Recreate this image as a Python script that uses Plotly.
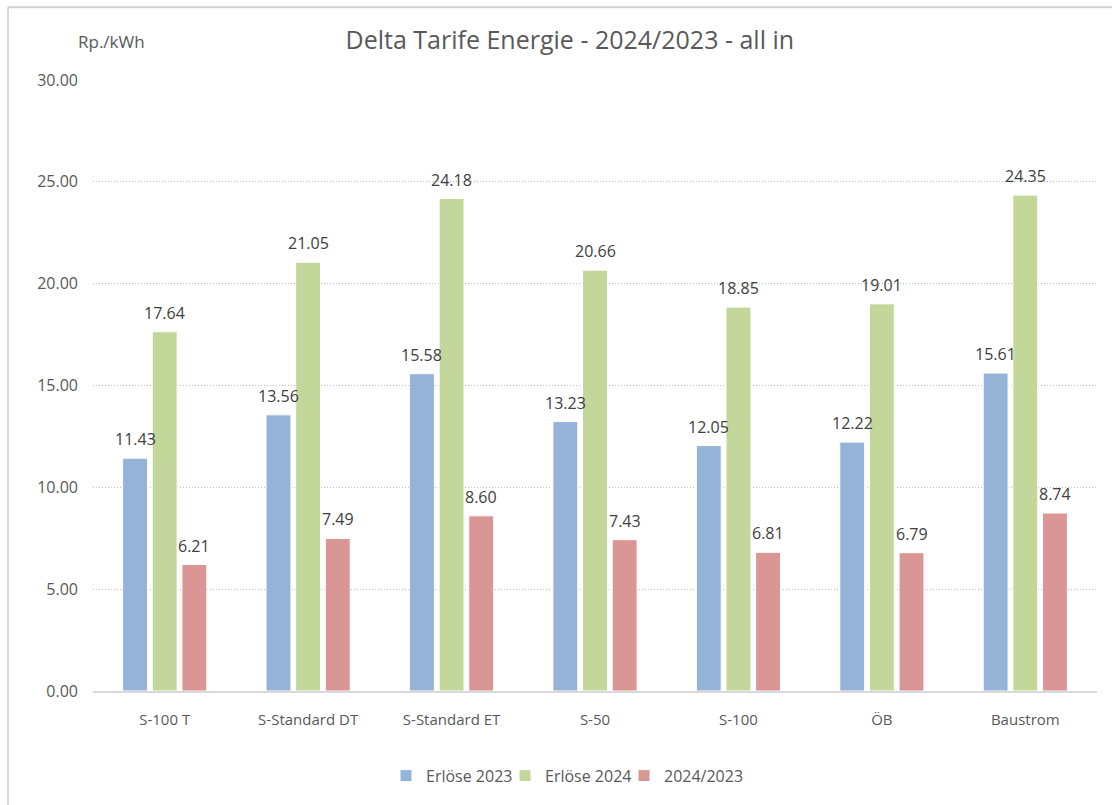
import plotly.graph_objects as go

categories = ["S-100 T", "S-Standard DT", "S-Standard ET", "S-50", "S-100", "ÖB", "Baustrom"]
erloese_2023 = [11.43, 13.56, 15.58, 13.23, 12.05, 12.22, 15.61]
erloese_2024 = [17.64, 21.05, 24.18, 20.66, 18.85, 19.01, 24.35]
delta = [6.21, 7.49, 8.60, 7.43, 6.81, 6.79, 8.74]

series = [
    ("Erlöse 2023", erloese_2023, "#95B3D7"),
    ("Erlöse 2024", erloese_2024, "#C4D79B"),
    ("2024/2023", delta, "#DA9694"),
]

font_family = "Open Sans, Noto Sans, sans-serif"
W, H = 1113, 805
ml, mr, mt, mb = 93, 16, 80, 112
bargap = 0.38
plot_w = W - ml - mr
plot_h = H - mt - mb


def px_x(x):
    return (x - ml) / plot_w


def px_y(y):
    return (H - mb - y) / plot_h


fig = go.Figure()
for name, vals, col in series:
    fig.add_trace(go.Bar(
        x=categories, y=vals, name=name,
        marker=dict(color=col, line=dict(color="white", width=1)),
    ))

# data labels above the bars
slot = plot_w / len(categories) * (1 - bargap) / len(series)
for i, (name, vals, col) in enumerate(series):
    for c, v in zip(categories, vals):
        fig.add_annotation(x=c, y=v, text=f"{v:.2f}", showarrow=False,
                           xshift=(i - 1) * slot, yshift=19, yanchor="middle",
                           font=dict(size=16, color="#404040", family=font_family))

fig.update_layout(
    width=W, height=H,
    paper_bgcolor="white", plot_bgcolor="white",
    margin=dict(l=ml, r=mr, t=mt, b=mb),
    barmode="group", bargap=bargap, bargroupgap=0.16,
    font=dict(family=font_family, color="#595959", size=15),
    title=dict(text="Delta Tarife Energie - 2024/2023 - all in", x=0.512, xanchor="center",
               y=1 - 40 / H, yanchor="middle",
               font=dict(size=25, color="#595959", family=font_family)),
    legend=dict(orientation="h", x=px_x(386), xanchor="left", y=px_y(778), yanchor="middle",
                font=dict(size=16, color="#595959"), traceorder="normal",
                entrywidth=74, itemwidth=30),
)
fig.update_xaxes(showline=True, linecolor="#D9D9D9", linewidth=2, ticks="",
                 ticklabelstandoff=14, tickfont=dict(size=15, color="#595959"))
fig.update_yaxes(range=[0, 30], dtick=5, tickformat=".2f", showgrid=True,
                 gridcolor="#BFBFBF", griddash="1px,2px", zeroline=False,
                 ticklabelstandoff=14, tickfont=dict(size=16, color="#595959"))

fig.add_annotation(text="Rp./kWh", xref="paper", yref="paper",
                   x=px_x(111), y=px_y(41), showarrow=False,
                   xanchor="center", yanchor="middle",
                   font=dict(size=17, color="#595959", family=font_family))

# chart frame (left and top edges)
fig.add_shape(type="line", xref="paper", yref="paper",
              x0=px_x(8), x1=px_x(8), y0=px_y(7), y1=px_y(810),
              line=dict(color="#D9D9D9", width=2), layer="above")
fig.add_shape(type="line", xref="paper", yref="paper",
              x0=px_x(8), x1=px_x(1112), y0=px_y(7), y1=px_y(7),
              line=dict(color="#D0D0D0", width=2), layer="above")

fig.write_html("out.html", config={"displayModeBar": False},
               post_script="document.body.style.margin='0';")
